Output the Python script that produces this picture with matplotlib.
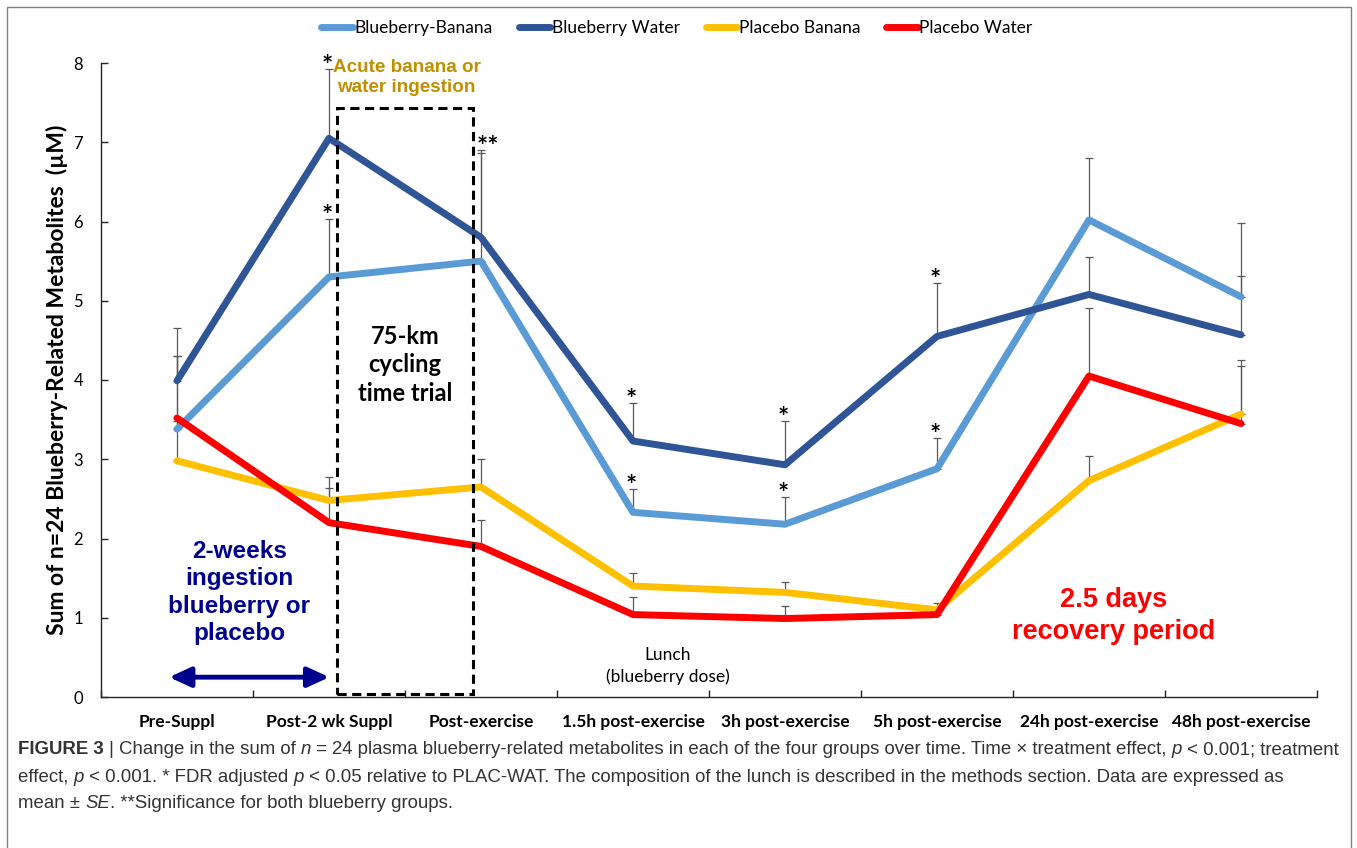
import numpy as np
import matplotlib
matplotlib.use("Agg")
import matplotlib.pyplot as plt
from matplotlib import font_manager
from matplotlib.lines import Line2D
from matplotlib.patches import Rectangle, FancyArrowPatch

# canvas size in pixels
W, H = 1357, 848

# time points on the x axis
timepoints = ['Pre-Suppl', 'Post-2 wk Suppl', 'Post-exercise', '1.5h post-exercise',
              '3h post-exercise', '5h post-exercise', '24h post-exercise', '48h post-exercise']

groups = ['Blueberry-Banana', 'Blueberry Water', 'Placebo Banana', 'Placebo Water']
colors = ['#5B9BD5', '#2F5597', '#FFC000', '#FF0000']

# group means (µM)
blu_ban = [3.38, 5.30, 5.50, 2.33, 2.18, 2.88, 6.02, 5.05]
blu_wat = [3.99, 7.05, 5.80, 3.23, 2.93, 4.55, 5.08, 4.57]
pla_ban = [2.98, 2.48, 2.65, 1.40, 1.32, 1.10, 2.73, 3.57]
pla_wat = [3.52, 2.20, 1.90, 1.04, 0.99, 1.04, 4.05, 3.45]

# standard errors (only the upper whisker is drawn)
blu_ban_se = [0.92, 0.73, 1.37, 0.29, 0.34, 0.39, 0.78, 0.93]
blu_wat_se = [0.66, 0.87, 1.10, 0.48, 0.55, 0.67, 0.47, 0.74]
pla_ban_se = [0.50, 0.30, 0.35, 0.16, 0.13, 0.09, 0.31, 0.61]
pla_wat_se = [0.78, 0.44, 0.33, 0.22, 0.16, 0.08, 0.86, 0.80]

# significance markers: (group, time point index, label)
stars = [('Blueberry Water', 1, '*'), ('Blueberry-Banana', 1, '*'),
         ('Blueberry Water', 2, '**'),
         ('Blueberry Water', 3, '*'), ('Blueberry-Banana', 3, '*'),
         ('Blueberry Water', 4, '*'), ('Blueberry-Banana', 4, '*'),
         ('Blueberry Water', 5, '*'), ('Blueberry-Banana', 5, '*')]

installed = {f.name for f in font_manager.fontManager.ttflist}
body_font = 'Lato'
arial = 'Liberation Sans'
cap_font = 'Liberation Sans Narrow' if 'Liberation Sans Narrow' in installed else 'Liberation Sans'

fig = plt.figure(figsize=(W / 100, H / 100), dpi=100)
ax = fig.add_axes([101 / W, (H - 697) / H, 1216 / W, 634 / H])

x = np.arange(len(timepoints))
series = [(groups[0], blu_ban, blu_ban_se, colors[0]),
          (groups[1], blu_wat, blu_wat_se, colors[1]),
          (groups[2], pla_ban, pla_ban_se, colors[2]),
          (groups[3], pla_wat, pla_wat_se, colors[3])]

for name, vals, se, col in series:
    ax.errorbar(x, vals, yerr=[np.zeros(len(vals)), se], fmt='none', ecolor='#595959',
                elinewidth=0.9, capsize=3, capthick=0.9, zorder=2)
for name, vals, se, col in series:
    ax.plot(x, vals, color=col, lw=5, solid_joinstyle='round', solid_capstyle='round',
            zorder=3, label=name)

# asterisks above the whiskers
lookup = {name: (vals, se) for name, vals, se, col in series}
for name, i, lab in stars:
    vals, se = lookup[name]
    dx = 5 if len(lab) > 1 else -1
    ax.annotate(lab, (x[i], vals[i] + se[i]), xytext=(dx, -3.5), textcoords='offset points',
                ha='center', va='baseline', fontsize=19, fontweight='bold',
                family=body_font, color='black', zorder=6)

# axes styling
ax.set_xlim(-0.5, 7.5)
ax.set_ylim(0, 8)
for side in ['top', 'right']:
    ax.spines[side].set_visible(False)
for side in ['left', 'bottom']:
    ax.spines[side].set_color('#262626')
    ax.spines[side].set_linewidth(1.0)

ax.set_yticks(range(0, 9))
ax.tick_params(axis='y', direction='in', length=5, width=1, color='#262626',
               labelsize=12, pad=13)
ax.set_xticks(np.arange(-0.5, 8, 1))
ax.set_xticklabels([])
ax.tick_params(axis='x', which='major', direction='in', length=5, width=1, color='#262626')
ax.set_xticks(x, minor=True)
ax.set_xticklabels(timepoints, minor=True, fontweight='bold', fontsize=12.5, family=body_font)
ax.tick_params(axis='x', which='minor', length=0, pad=12)
for lab in ax.get_yticklabels():
    lab.set_family(body_font)

ax.set_ylabel('Sum of n=24 Blueberry-Related Metabolites  (µM)', fontsize=16.5,
              fontweight='bold', family=body_font)
ax.yaxis.set_label_coords(-(101 - 68) / 1216, 0.5)

# exercise window
ax.add_patch(Rectangle((1.053, 0.04), 0.894, 7.39, fill=False, edgecolor='black', lw=2.2,
                       ls=(0, (3, 1.8)), zorder=5))
ax.text(1.51, 7.82, 'Acute banana or\nwater ingestion', ha='center', va='center',
        fontsize=13.6, fontweight='bold', family=arial, color='#BF9000', linespacing=1.25)
ax.text(1.50, 4.19, '75-km\ncycling\ntime trial', ha='center', va='center',
        fontsize=17, fontweight='bold', family=body_font, color='black', linespacing=1.3)

# supplementation period
ax.text(0.41, 1.32, '2-weeks\ningestion\nblueberry or\nplacebo', ha='center', va='center',
        fontsize=17.5, fontweight='bold', family=arial, color='#00008F', linespacing=1.25)
ax.add_patch(FancyArrowPatch((-0.07, 0.25), (1.02, 0.25),
                             arrowstyle='<|-|>,head_length=0.65,head_width=0.3',
                             mutation_scale=20, color='#00008F', lw=3.5, zorder=4))

ax.text(3.23, 0.39, 'Lunch\n(blueberry dose)', ha='center', va='center', fontsize=12.5,
        family=body_font, color='black', linespacing=1.35)
ax.text(6.16, 1.02, '2.5 days\nrecovery period', ha='center', va='center', fontsize=19.5,
        fontweight='bold', family=arial, color='#FF0000', linespacing=1.27)

# legend across the top
handles = [Line2D([], [], color=c, lw=5, solid_capstyle='round') for c in colors]
fig.legend(handles, groups, loc='center', bbox_to_anchor=(677 / W, 1 - 28 / H), ncol=4,
           frameon=False, prop={'family': body_font, 'size': 12.5}, handlelength=1.8,
           handletextpad=0.1, columnspacing=1.5)

# figure frame
fig.add_artist(Rectangle((6.5 / W, -0.01), (W - 13) / W, 1.01 - 6.5 / H,
                         transform=fig.transFigure, fill=False, edgecolor='#808080', lw=1))

# caption, assembled run by run so italics and bold sit inline
renderer = fig.canvas.get_renderer()


def run_width(s, size, weight='normal', style='normal'):
    t = fig.text(0, 0, '|' + s + '|', fontsize=size, fontweight=weight, fontstyle=style,
                 family=cap_font)
    w1 = t.get_window_extent(renderer).width
    t.set_text('||')
    w2 = t.get_window_extent(renderer).width
    t.remove()
    return w1 - w2


cap_lines = [
    [('FIGURE 3', 'bold', 'normal'), (' | Change in the sum of ', 'normal', 'normal'),
     ('n', 'normal', 'italic'),
     (' = 24 plasma blueberry-related metabolites in each of the four groups over time. '
      'Time \u00d7 treatment effect, ', 'normal', 'normal'),
     ('p', 'normal', 'italic'), (' < 0.001; treatment', 'normal', 'normal')],
    [('effect, ', 'normal', 'normal'), ('p', 'normal', 'italic'),
     (' < 0.001. * FDR adjusted ', 'normal', 'normal'), ('p', 'normal', 'italic'),
     (' < 0.05 relative to PLAC-WAT. The composition of the lunch is described in the '
      'methods section. Data are expressed as', 'normal', 'normal')],
    [('mean \u00b1 ', 'normal', 'normal'), ('SE', 'normal', 'italic'),
     ('. **Significance for both blueberry groups.', 'normal', 'normal')],
]
cap_y = [750, 777, 803]

ref = sum(run_width(s, 10, w, st) for s, w, st in cap_lines[0])
cap_size = 10 * (1347 - 18) / ref

for runs, ypx in zip(cap_lines, cap_y):
    xpx = 18
    for s, w, st in runs:
        fig.text(xpx / W, 1 - ypx / H, s, fontsize=cap_size, fontweight=w, fontstyle=st,
                 family=cap_font, color='#333333', ha='left', va='center')
        xpx += run_width(s, cap_size, w, st)

fig.savefig('out.png', dpi=100)
